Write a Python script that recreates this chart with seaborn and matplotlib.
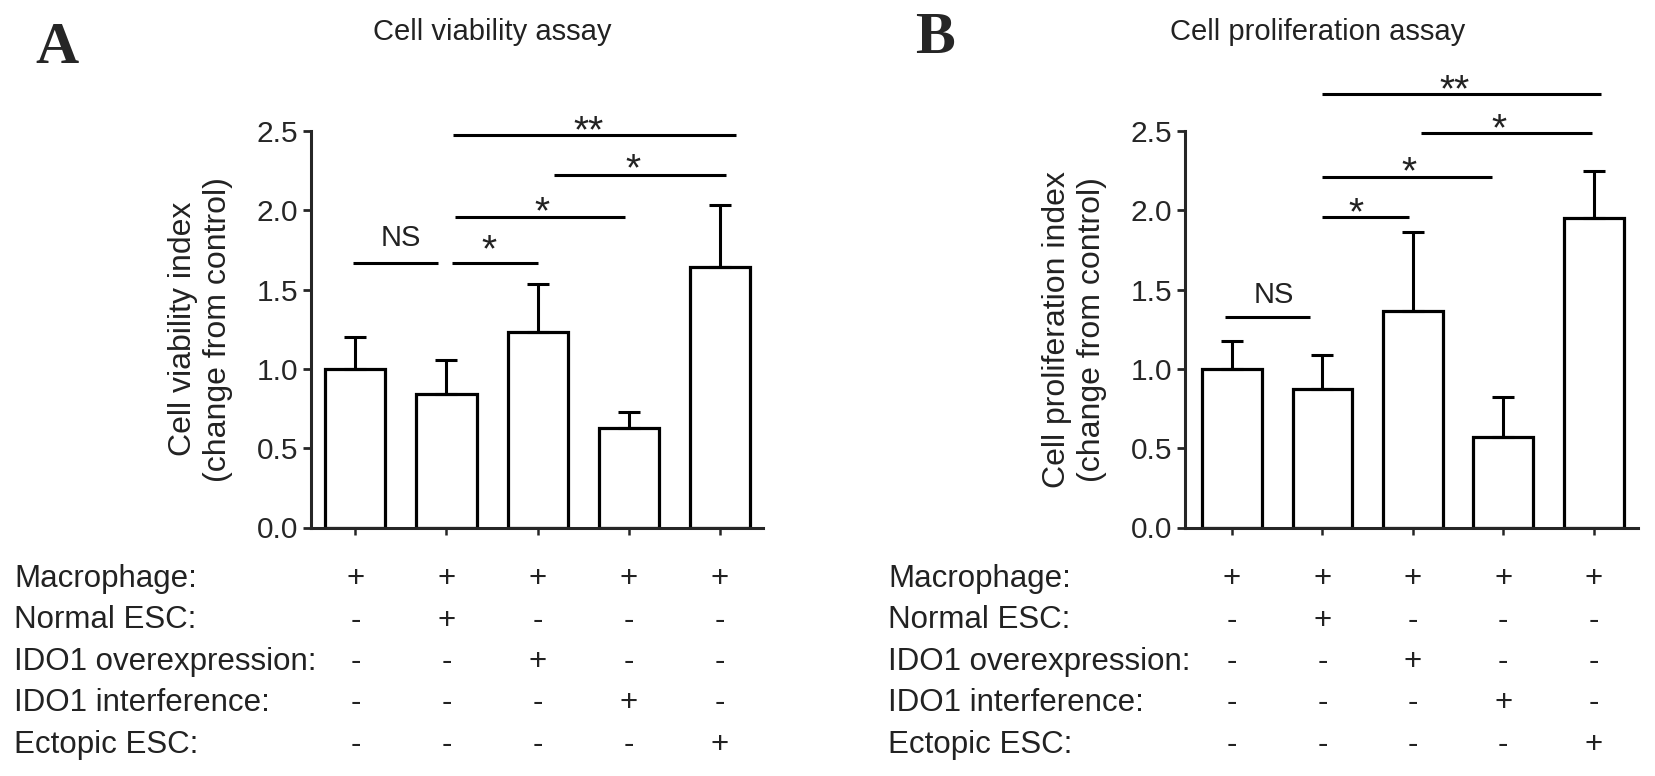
import numpy as np
import pandas as pd
import matplotlib
matplotlib.use("Agg")
import matplotlib.pyplot as plt
import matplotlib.transforms as mtransforms
import seaborn as sns

# groups (one bar each) and the condition table below the bars
groups = ["G1", "G2", "G3", "G4", "G5"]
row_labels = ["Macrophage:", "Normal ESC:", "IDO1 overexpression:",
              "IDO1 interference:", "Ectopic ESC:"]
macrophage = ["+", "+", "+", "+", "+"]
normal_esc = ["-", "+", "-", "-", "-"]
ido1_over = ["-", "-", "+", "-", "-"]
ido1_inter = ["-", "-", "-", "+", "-"]
ectopic_esc = ["-", "-", "-", "-", "+"]

# panel A: cell viability
viability_mean = [1.00, 0.84, 1.235, 0.63, 1.64]
viability_err = [0.20, 0.215, 0.30, 0.10, 0.395]
# brackets: (start, end, height, label, label x, label baseline)
viability_sig = [
    (-0.03, 0.91, 1.67, "NS", 0.50, 1.775),
    (1.06, 2.00, 1.67, "*", 1.47, 1.68),
    (1.09, 2.96, 1.955, "*", 2.05, 1.92),
    (2.18, 4.07, 2.225, "*", 3.05, 2.19),
    (1.07, 4.18, 2.475, "**", 2.56, 2.43),
]

# panel B: cell proliferation
prolif_mean = [1.00, 0.875, 1.365, 0.57, 1.95]
prolif_err = [0.175, 0.215, 0.50, 0.255, 0.297]
prolif_sig = [
    (-0.08, 0.86, 1.325, "NS", 0.46, 1.415),
    (1.00, 1.96, 1.955, "*", 1.37, 1.91),
    (1.00, 2.87, 2.21, "*", 1.96, 2.17),
    (2.09, 3.98, 2.485, "*", 2.95, 2.44),
    (1.00, 4.08, 2.735, "**", 2.46, 2.69),
]

W, H = 1656, 776
sns.set_style("ticks")
plt.rcParams["font.family"] = ["Liberation Sans", "DejaVu Sans"]

fig = plt.figure(figsize=(W / 100, H / 100), dpi=100)

table = [macrophage, normal_esc, ido1_over, ido1_inter, ectopic_esc]
row_base = [587, 628.5, 670, 711, 752.5]


def draw_panel(left_px, width_px, xlim, means, errs, sig, title, title_x,
               letter, letter_xy, ylabel, table_x):
    ax = fig.add_axes([left_px / W, 1 - 527.5 / H, width_px / W, 396.5 / H])
    df = pd.DataFrame({"group": groups, "value": means})
    sns.barplot(data=df, x="group", y="value", color="white",
                edgecolor="black", linewidth=2.3, width=0.66, ax=ax,
                saturation=1, errorbar=None)
    ax.errorbar(range(len(groups)), means, yerr=[[0] * len(errs), errs],
                fmt="none", ecolor="black", elinewidth=2.2, capsize=8,
                capthick=2.2, zorder=1)
    ax.set_xlim(*xlim)
    ax.set_ylim(0, 2.5)
    ax.set_yticks([0, 0.5, 1.0, 1.5, 2.0, 2.5])
    ax.set_yticklabels(["0.0", "0.5", "1.0", "1.5", "2.0", "2.5"])
    ax.set_xticklabels([])
    ax.set_xlabel("")
    ax.tick_params(axis="y", labelsize=21.5, length=6, width=2, pad=3)
    ax.tick_params(axis="x", length=5, width=1.8)
    for s in ["left", "bottom"]:
        ax.spines[s].set_linewidth(2.2)
    sns.despine(ax=ax)
    ax.set_ylabel(ylabel, fontsize=23, color="#222222")
    ax.yaxis.set_label_coords(-78 / width_px, 0.5)

    for x1, x2, y, lab, lx, ly in sig:
        ax.plot([x1, x2], [y, y], color="black", lw=2.2, clip_on=False,
                solid_capstyle="butt")
        fs = 21 if lab == "NS" else 28
        ax.text(lx, ly, lab, ha="center", va="baseline", fontsize=fs,
                color="#222222", clip_on=False)

    fig.text(title_x / W, 1 - 40 / H, title, ha="center", va="baseline",
             fontsize=21, color="#222222")
    fig.text(letter_xy[0] / W, 1 - letter_xy[1] / H, letter, ha="left",
             va="baseline", fontsize=43, fontweight="bold",
             family="Liberation Serif")

    trans = mtransforms.blended_transform_factory(ax.transData, fig.transFigure)
    for r, (lab, signs) in enumerate(zip(row_labels, table)):
        yb = 1 - row_base[r] / H
        fig.text(table_x / W, yb, lab, ha="left", va="baseline",
                 fontsize=22.5, color="#222222")
        for i, s in enumerate(signs):
            ax.text(i, yb, s, transform=trans, ha="center", va="baseline",
                    fontsize=22.5, color="#222222", clip_on=False)
    return ax


draw_panel(310.7, 452, (-0.49, 4.47), viability_mean, viability_err,
           viability_sig, "Cell viability assay", 492, "A", (35, 63),
           "Cell viability index\n(change from control)", 14)
draw_panel(1185, 453, (-0.52, 4.49), prolif_mean, prolif_err,
           prolif_sig, "Cell proliferation assay", 1318, "B", (915, 53),
           "Cell proliferation index\n(change from control)", 888)

fig.savefig("out.png", dpi=100, facecolor="white")
